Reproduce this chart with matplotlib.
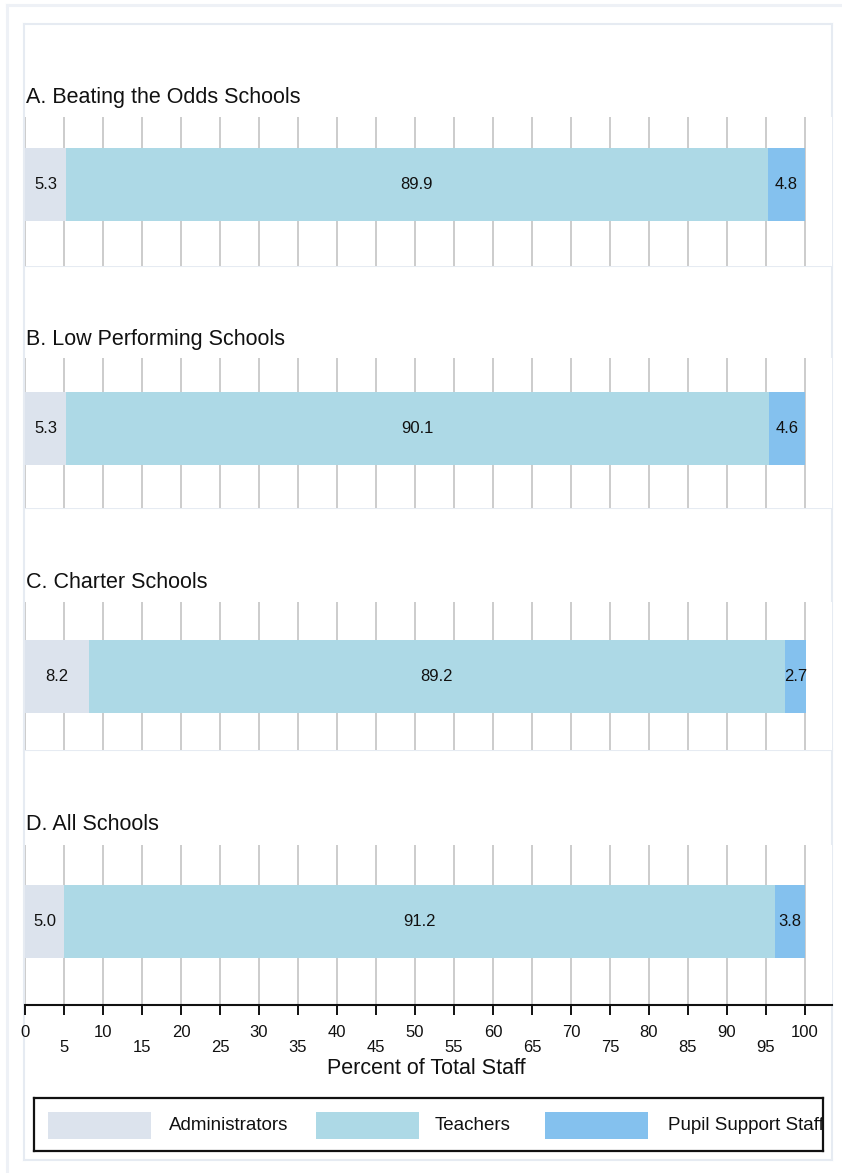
import matplotlib.pyplot as plt
from matplotlib.patches import Rectangle
from matplotlib.lines import Line2D

plt.rcParams['font.family'] = ['Liberation Sans', 'DejaVu Sans']

# data
groups = ["A. Beating the Odds Schools", "B. Low Performing Schools",
          "C. Charter Schools", "D. All Schools"]
categories = ["Administrators", "Teachers", "Pupil Support Staff"]
administrators = [5.3, 5.3, 8.2, 5.0]
teachers = [89.9, 90.1, 89.2, 91.2]
pupil_support = [4.8, 4.6, 2.7, 3.8]
colors = ["#dce3ed", "#add9e6", "#84c1ee"]
major_ticks = list(range(0, 101, 10))
minor_ticks = list(range(5, 100, 10))

W, H = 842, 1173
fig = plt.figure(figsize=(W / 100, H / 100), dpi=100)


def fx(px):
    return px / W


def fy(py):
    return 1 - py / H


def line(xs, ys, color, lw):
    fig.add_artist(Line2D([fx(x) for x in xs], [fy(y) for y in ys],
                          transform=fig.transFigure, color=color, lw=lw, zorder=0))


# outer and inner frames, panel separators
line([7, 842], [5, 5], "#eef1f6", 2.2)
line([7, 7], [5, 1173], "#eef1f6", 2.2)
frame_c = "#e6ebf2"
line([24, 832], [24, 24], frame_c, 1.5)
line([24, 832], [1160, 1160], frame_c, 1.5)
line([24, 24], [24, 1160], frame_c, 1.5)
line([832, 832], [24, 1160], frame_c, 1.5)
for y in [266, 508, 750]:
    line([24, 832], [y, y], frame_c, 1.5)

# panel layout in pixels
grid_top = [117, 358, 602, 845]
grid_bot = [266, 508, 750, 1005]
bar_top = [148, 392, 640, 885]
bar_h = 73
title_y = [97, 340, 582, 825]
xmax = 100 * (832 - 25) / (805 - 25)

for i, name in enumerate(groups):
    h = grid_bot[i] - grid_top[i]
    ax = fig.add_axes([fx(25), fy(grid_bot[i]), fx(832) - fx(25), h / H])
    ax.set_xlim(0, xmax)
    ax.set_ylim(h, 0)
    ax.set_yticks([])
    yc = bar_top[i] - grid_top[i] + bar_h / 2

    ax.set_xticks(major_ticks)
    ax.set_xticks(minor_ticks, minor=True)
    ax.grid(True, which='both', axis='x', color='#c8c8c8', lw=1.3)
    ax.set_axisbelow(True)

    vals = [administrators[i], teachers[i], pupil_support[i]]
    left = 0
    for v, c in zip(vals, colors):
        ax.barh(yc, v, left=left, height=bar_h, color=c, edgecolor='none')
        ax.text(left + v / 2, yc, f"{v:.1f}", ha='center', va='center',
                fontsize=12, color='#111111')
        left += v

    for s in ax.spines.values():
        s.set_visible(False)

    if i < len(groups) - 1:
        ax.tick_params(axis='x', which='both', bottom=False, labelbottom=False)
    else:
        ax.spines['bottom'].set_visible(True)
        ax.spines['bottom'].set_linewidth(1.5)
        ax.spines['bottom'].set_color('#111111')
        ax.set_xticks(major_ticks, labels=[str(t) for t in major_ticks])
        ax.set_xticks(minor_ticks, labels=[str(t) for t in minor_ticks], minor=True)
        ax.tick_params(axis='x', which='both', length=7.2, width=1.4,
                       color='#111111', labelsize=12, labelcolor='#111111')
        ax.tick_params(axis='x', which='major', pad=7)
        ax.tick_params(axis='x', which='minor', pad=18)

    fig.text(fx(26), fy(title_y[i]), name, fontsize=15.5, ha='left', va='center',
             color='#111111')

fig.text(fx(426), fy(1068), "Percent of Total Staff", fontsize=15.5,
         ha='center', va='center', color='#111111')

# legend box
lax = fig.add_axes([fx(34), fy(1151), fx(823) - fx(34), (1151 - 1098) / H])
lax.set_xlim(34, 823)
lax.set_ylim(1151, 1098)
lax.set_xticks([])
lax.set_yticks([])
for s in lax.spines.values():
    s.set_linewidth(1.6)
    s.set_color('#111111')
patch_x = [48, 316, 545]
text_x = [169, 435, 668]
for px, tx, c, lab in zip(patch_x, text_x, colors, categories):
    lax.add_patch(Rectangle((px, 1112), 103, 27, color=c, lw=0))
    lax.text(tx, 1126, lab, fontsize=13.5, ha='left', va='center',
             color='#111111', clip_on=True)

fig.savefig("out.png", dpi=100)
